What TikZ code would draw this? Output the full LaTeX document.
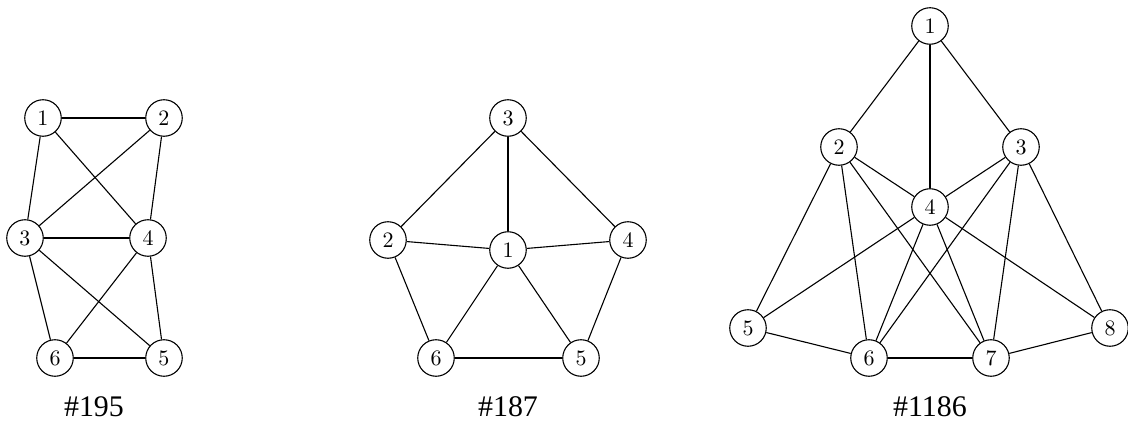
\documentclass[tikz,border=0pt]{standalone}
\usepackage{fontspec}
\newfontfamily\labelfont{Liberation Serif}
\begin{document}
\begin{tikzpicture}[x=0.4545pt,y=-0.4545pt,
  vtx/.style={circle,draw,line width=0.5pt,minimum size=16.6pt,inner sep=0pt,font=\fontsize{10}{12}\selectfont},
  edge/.style={line width=0.5pt},
  graphlabel/.style={font=\labelfont\fontsize{13.6}{16}\selectfont,inner sep=0pt}]
\useasboundingbox (0,0) rectangle (1128,423);
% graph 195
\node[vtx] (a1) at (43,118) {1};
\node[vtx] (a2) at (164,118) {2};
\node[vtx] (a3) at (25,238) {3};
\node[vtx] (a4) at (148,238) {4};
\node[vtx] (a6) at (55,358) {6};
\node[vtx] (a5) at (164,358) {5};
\foreach \u/\v in {a1/a2,a1/a3,a1/a4,a2/a3,a2/a4,a3/a4,a3/a6,a3/a5,a4/a6,a4/a5,a6/a5}
  \draw[edge] (\u) -- (\v);
\node[graphlabel] (c1) at (94,407) {\#195};
% graph 187
\node[vtx] (b3) at (508,118) {3};
\node[vtx] (b2) at (388,240) {2};
\node[vtx] (b1) at (508,250) {1};
\node[vtx] (b4) at (628,240) {4};
\node[vtx] (b6) at (436,358) {6};
\node[vtx] (b5) at (581,358) {5};
\foreach \u/\v in {b3/b2,b3/b1,b3/b4,b2/b1,b1/b4,b2/b6,b1/b6,b1/b5,b4/b5,b6/b5}
  \draw[edge] (\u) -- (\v);
\node[graphlabel] (c2) at (508,407) {\#187};
% graph 1186
\node[vtx] (d1) at (930,26) {1};
\node[vtx] (d2) at (839,147) {2};
\node[vtx] (d3) at (1021,147) {3};
\node[vtx] (d4) at (930,207) {4};
\node[vtx] (d5) at (748,328) {5};
\node[vtx] (d6) at (869,358) {6};
\node[vtx] (d7) at (991,358) {7};
\node[vtx] (d8) at (1110,328) {8};
\foreach \u/\v in {d1/d2,d1/d3,d1/d4,d2/d4,d3/d4,d2/d5,d2/d6,d2/d7,d3/d6,d3/d7,d3/d8,d4/d5,d4/d6,d4/d7,d4/d8,d5/d6,d6/d7,d7/d8}
  \draw[edge] (\u) -- (\v);
\node[graphlabel] (c3) at (930,407) {\#1186};
\end{tikzpicture}
\end{document}
